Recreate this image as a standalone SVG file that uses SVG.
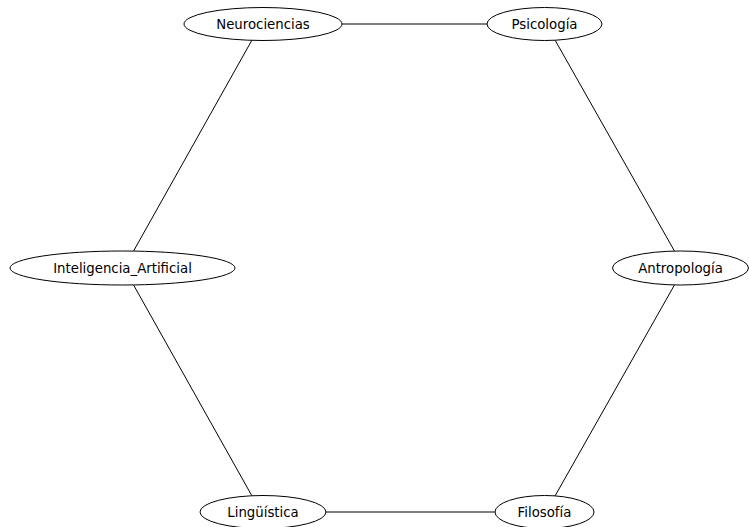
<svg xmlns="http://www.w3.org/2000/svg" width="749" height="527" viewBox="0 0 749 527">
<style>
.n ellipse{fill:#fff;stroke:#000;stroke-width:1}
.n text{font-family:"DejaVu Sans",sans-serif;font-size:13.3px;text-anchor:middle;dominant-baseline:central;fill:#000}
#edges line{stroke:#000;stroke-width:1}
</style>
<rect width="749" height="527" fill="#fff"/>
<g id="edges">
<line x1="342" y1="24" x2="487" y2="24"/>
<line x1="252" y1="40" x2="133" y2="252"/>
<line x1="555" y1="40" x2="675" y2="252"/>
<line x1="133" y1="284" x2="252" y2="496"/>
<line x1="675" y1="284" x2="555" y2="496"/>
<line x1="326" y1="512" x2="495" y2="512"/>
</g>
<g id="Neurociencias" class="n"><ellipse cx="263" cy="24" rx="79" ry="16.5"/><text x="263" y="24">Neurociencias</text></g>
<g id="Psicologia" class="n"><ellipse cx="544.5" cy="24" rx="57.5" ry="16.5"/><text x="544.5" y="24">Psicología</text></g>
<g id="Inteligencia_Artificial" class="n"><ellipse cx="122.5" cy="268" rx="112.5" ry="17"/><text x="122.5" y="268">Inteligencia_Artificial</text></g>
<g id="Antropologia" class="n"><ellipse cx="680.5" cy="268" rx="68" ry="17"/><text x="680.5" y="268">Antropología</text></g>
<g id="Linguistica" class="n"><ellipse cx="263" cy="512" rx="63" ry="16.5"/><text x="263" y="512">Lingüística</text></g>
<g id="Filosofia" class="n"><ellipse cx="544.5" cy="512" rx="49.5" ry="16.5"/><text x="544.5" y="512">Filosofía</text></g>
</svg>
